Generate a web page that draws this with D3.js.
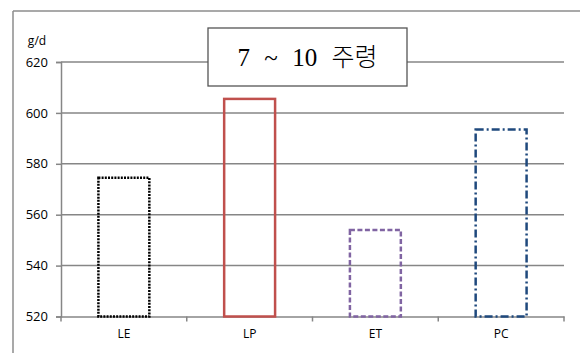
<!DOCTYPE html>
<html>
<head>
<meta charset="utf-8">
<script src="https://cdn.jsdelivr.net/npm/d3@7"></script>
<style>
  html, body { margin: 0; padding: 0; background: #fff; }
  svg { display: block; }
</style>
</head>
<body>
<svg id="chart" width="580" height="353"></svg>
<script>
// Daily gain (g/d), weeks 7–10
const categories = ["LE", "LP", "ET", "PC"];
const values = [574.5, 605.5, 554, 593.5];
const yTicks = [520, 540, 560, 580, 600, 620];
const colors = ["#000000", "#C0504D", "#8064A2", "#1F497D"];
const dashes = ["2,1.2", null, "5,2.5", "8,3,2,3"];
const titleText = "7 ~ 10 주령";
const unitText = "g/d";

const svg = d3.select("#chart");
const margin = { left: 61, right: 16, top: 62, bottom: 36.5 };
const W = 580, H = 353;

const x = d3.scaleBand().domain(categories)
  .range([margin.left, W - margin.right]).paddingInner(0).paddingOuter(0);
const y = d3.scaleLinear().domain([520, 620])
  .range([H - margin.bottom, margin.top]);

// Chart frame (top and left edges)
svg.append("line").attr("x1", 13).attr("x2", W).attr("y1", 11).attr("y2", 11)
  .attr("stroke", "#8c8c8c").attr("stroke-width", 1.5);
svg.append("line").attr("x1", 13).attr("x2", 13).attr("y1", 11).attr("y2", H)
  .attr("stroke", "#8c8c8c").attr("stroke-width", 1.5);

// Horizontal gridlines
svg.append("g").selectAll("line").data(yTicks.filter(d => d !== 520)).join("line")
  .attr("x1", margin.left).attr("x2", W - margin.right)
  .attr("y1", d => y(d)).attr("y2", d => y(d))
  .attr("stroke", "#868686").attr("stroke-width", 1.5);

// Y axis
const yAxis = svg.append("g").attr("transform", `translate(${margin.left},0)`)
  .call(d3.axisLeft(y).tickValues(yTicks).tickSize(5).tickPadding(8).tickFormat(d3.format("d")));
yAxis.select(".domain").attr("stroke", "#868686").attr("stroke-width", 1.5);
yAxis.selectAll(".tick line").attr("stroke", "#868686").attr("stroke-width", 1.5);
yAxis.selectAll("text").attr("font-family", "'Open Sans', sans-serif")
  .attr("font-size", 13).attr("fill", "#000");

// X axis with ticks on category boundaries
const xAxis = svg.append("g").attr("transform", `translate(0,${y(520)})`)
  .call(d3.axisBottom(x).tickSize(0).tickPadding(13));
xAxis.select(".domain").attr("stroke", "#868686").attr("stroke-width", 1.5);
xAxis.selectAll("text").attr("font-family", "'Open Sans', sans-serif")
  .attr("font-size", 12).attr("fill", "#000");
const edges = categories.map(c => x(c)).concat([x.range()[1]]);
xAxis.selectAll(".edge").data(edges).join("line").attr("class", "edge")
  .attr("x1", d => d).attr("x2", d => d).attr("y1", 0).attr("y2", 5)
  .attr("stroke", "#868686").attr("stroke-width", 1.5);

// Outlined bars
const barW = x.bandwidth() * 0.405;
svg.append("g").selectAll("rect").data(categories).join("rect")
  .attr("x", (c) => x(c) + (x.bandwidth() - barW) / 2)
  .attr("y", (c, i) => y(values[i]))
  .attr("width", barW)
  .attr("height", (c, i) => y(520) - y(values[i]))
  .attr("fill", "none")
  .attr("stroke", (c, i) => colors[i])
  .attr("stroke-width", 2.5)
  .attr("stroke-dasharray", (c, i) => dashes[i]);

// Unit label
svg.append("text").attr("x", 37).attr("y", 45).attr("text-anchor", "middle")
  .attr("font-family", "'Open Sans', sans-serif").attr("font-size", 12)
  .text(unitText);

// Title box
const tb = { x: 208, y: 28, w: 199, h: 58 };
svg.append("rect").attr("x", tb.x).attr("y", tb.y).attr("width", tb.w).attr("height", tb.h)
  .attr("fill", "#fff").attr("stroke", "#555").attr("stroke-width", 1.3);
svg.append("text").attr("x", tb.x + tb.w / 2).attr("y", 66).attr("text-anchor", "middle")
  .attr("font-family", "'Liberation Serif', 'Noto Sans CJK KR', serif").attr("font-size", 25)
  .attr("font-weight", 300)
  .attr("word-spacing", 8)
  .text(titleText);
</script>
</body>
</html>
